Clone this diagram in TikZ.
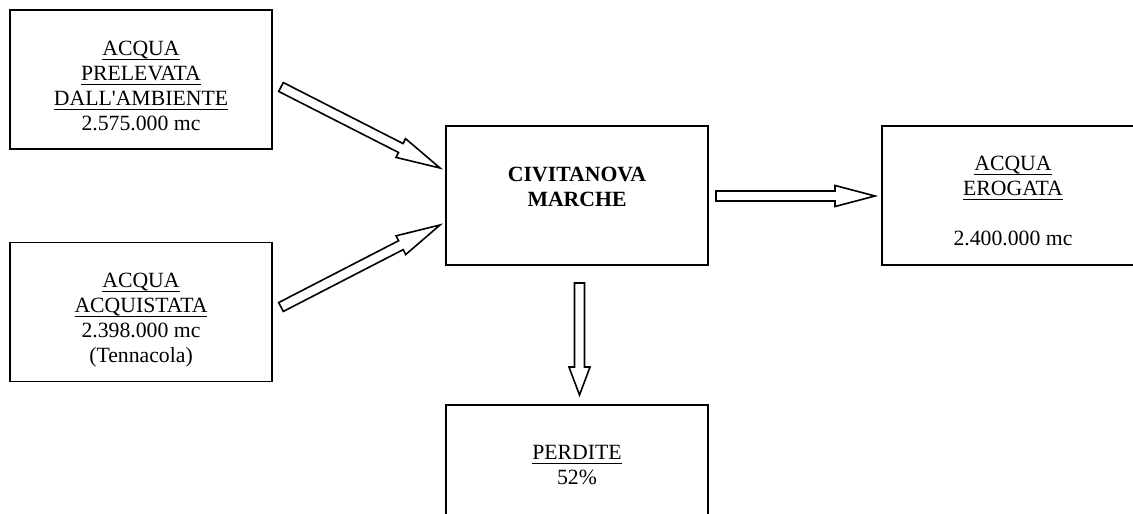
\documentclass[tikz,border=0pt]{standalone}
\usepackage{fontspec}
\setmainfont{Liberation Serif}
\usetikzlibrary{calc}

% underline with a fixed distance below the baseline
\newcommand\ulin[1]{\setbox0\hbox{#1}\rlap{\rule[-3.3pt]{\wd0}{0.9pt}}\box0}

% hollow block arrow from #1 to #2 with head length #3
\newcommand\blockarrow[3]{%
  \path (#1); \pgfgetlastxy{\bax}{\bay}%
  \path (#2); \pgfgetlastxy{\bbx}{\bby}%
  \pgfmathsetmacro\bang{atan2(\bby-\bay,\bbx-\bax)}%
  \pgfmathsetmacro\blen{veclen(\bbx-\bax,\bby-\bay)}%
  \begin{scope}[shift={(#1)},rotate=\bang]
    \draw[flowarrow] (0pt,-3.75pt) -- ({\blen pt-#3},-3.75pt)
      -- ({\blen pt-#3},-7.9pt) -- (\blen pt,0pt)
      -- ({\blen pt-#3},7.9pt) -- ({\blen pt-#3},3.75pt)
      -- (0pt,3.75pt) -- cycle;
  \end{scope}}

\tikzset{
  block/.style={draw=black, line width=1.4pt, minimum width=196.5pt,
    minimum height=104.25pt, inner sep=0pt},
  label/.style={align=center, inner sep=0pt, text=black,
    font=\fontsize{16.3pt}{18.75pt}\selectfont},
  flowarrow/.style={draw=black, line width=1.2pt, fill=white, line join=miter}
}

\begin{document}
\begin{tikzpicture}[x=0.75pt, y=-0.75pt]
\useasboundingbox (0,0) rectangle (1133,514);
\clip (0,0) rectangle (1133,514);

% boxes
\node[block] (prel) at (141,79.5) {};
\node[block] (acq) at (141,312) {};
\node[block] (civ) at (577,195.5) {};
\node[block] (erog) at (1013,195.5) {};
\node[block] (perd) at (577,474.5) {};

% texts
\node[label] (tprel) at (141,86) {\ulin{ACQUA}\\\ulin{PRELEVATA}\\\ulin{DALL\textquotesingle AMBIENTE}\\2.575.000 mc};
\node[label] (tacq) at (141,320) {\ulin{ACQUA}\\\ulin{ACQUISTATA}\\2.398.000 mc\\(Tennacola)};
\node[label, font=\fontsize{16.3pt}{18.75pt}\selectfont\bfseries] (tciv) at (577,186.5) {CIVITANOVA\\MARCHE};
\node[label] (terog) at (1013,201.3) {\ulin{ACQUA}\\\ulin{EROGATA}\\[18.75pt]2.400.000 mc};
\node[label] (tperd) at (577,465.5) {\ulin{PERDITE}\\52\%};

% arrow ends
\coordinate (a1s) at (281,87);
\coordinate (a1e) at (440,168);
\coordinate (a2s) at (281,307);
\coordinate (a2e) at (440,225);
\coordinate (a3s) at (716,196);
\coordinate (a3e) at (875,196);
\coordinate (a4s) at (579.5,283);
\coordinate (a4e) at (579.5,395);

% flow arrows
\blockarrow{a1s}{a1e}{33pt}
\blockarrow{a2s}{a2e}{33pt}
\blockarrow{a3s}{a3e}{30pt}
\blockarrow{a4s}{a4e}{21pt}
\end{tikzpicture}
\end{document}
